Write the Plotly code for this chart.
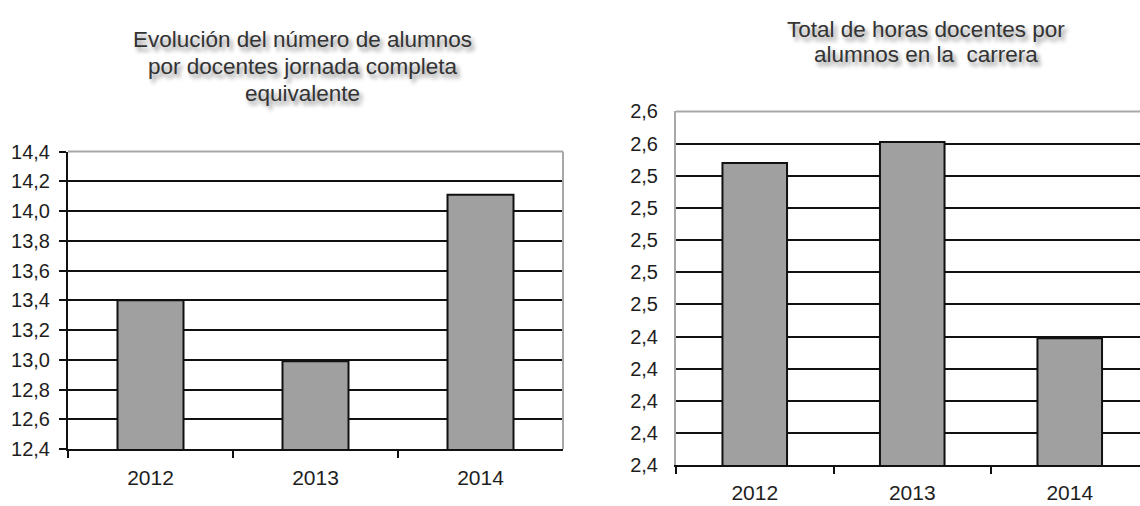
import plotly.graph_objects as go

years = ["2012", "2013", "2014"]
alumnos_por_docente = [13.40, 12.99, 14.11]
horas_por_alumno = [2.548, 2.561, 2.439]

title_left_lines = ["Evolución del número de alumnos",
                    "por docentes jornada completa",
                    "equivalente"]
title_right_lines = ["Total de horas docentes por",
                     "alumnos en la  carrera"]

W, H = 1140, 506
FONT = "Liberation Sans, Arial, sans-serif"
BAR = "#a0a0a0"
GRID = "#111111"
FRAME = "#a8a8a8"

fig = go.Figure()
fig.add_trace(go.Bar(x=years, y=alumnos_por_docente, width=0.4,
                     marker=dict(color=BAR, line=dict(color="#111111", width=2)),
                     xaxis="x", yaxis="y", showlegend=False, hoverinfo="skip"))
fig.add_trace(go.Bar(x=years, y=horas_por_alumno, width=0.41,
                     marker=dict(color=BAR, line=dict(color="#111111", width=2)),
                     xaxis="x2", yaxis="y2", showlegend=False, hoverinfo="skip"))

ytickfont = dict(family=FONT, size=20, color="#1e1e1e")
xtickfont = dict(family=FONT, size=21, color="#1e1e1e")
titlefont = dict(family=FONT, size=22.5, color="#333333",
                 shadow="3px 4px 4px rgba(0,0,0,0.45)")

annotations = []
for i, line in enumerate(title_left_lines):
    annotations.append(dict(text=line, xref="paper", yref="paper", x=302 / W,
                            y=1 - (30 + 28 * i) / H, xanchor="center", yanchor="middle",
                            showarrow=False, font=titlefont))
for i, line in enumerate(title_right_lines):
    annotations.append(dict(text=line, xref="paper", yref="paper", x=926 / W,
                            y=1 - (19 + 26 * i) / H, xanchor="center", yanchor="middle",
                            showarrow=False, font=titlefont))

fig.update_layout(
    width=W, height=H,
    margin=dict(l=0, r=0, t=0, b=0),
    paper_bgcolor="white", plot_bgcolor="white",
    separators=",.",
    xaxis=dict(domain=[68 / W, 563 / W], anchor="y", type="category",
               range=[-0.5, 2.5], showline=True, linecolor="#111111", linewidth=2,
               ticks="outside", tickson="boundaries", ticklen=7, tickwidth=2,
               tickcolor="#111111", showgrid=False, tickfont=xtickfont,
               ticklabelstandoff=9),
    yaxis=dict(domain=[(H - 458) / H, (H - 147) / H], anchor="x",
               range=[12.4, 14.4], tick0=12.4, dtick=0.2, tickformat=".1f",
               showline=True, linecolor="#111111", linewidth=2,
               ticks="outside", ticklen=7, tickwidth=2, tickcolor="#111111",
               showgrid=True, gridcolor=GRID, gridwidth=2, zeroline=False,
               tickfont=ytickfont, ticklabelstandoff=5),
    xaxis2=dict(domain=[676 / W, 1.0], anchor="y2", type="category",
                range=[-0.5, -0.5 + 464 / 157.5], showline=True, linecolor="#111111",
                linewidth=2, ticks="outside", tickson="boundaries", ticklen=7,
                tickwidth=2, tickcolor="#111111", showgrid=False, tickfont=xtickfont,
                ticklabelstandoff=7),
    yaxis2=dict(domain=[(H - 475) / H, (H - 105) / H], anchor="x2",
                range=[2.36, 2.58], tick0=2.36, dtick=0.02, tickformat=".1f",
                showline=True, linecolor=FRAME, linewidth=2, ticks="",
                showgrid=True, gridcolor=GRID, gridwidth=2, zeroline=False,
                tickfont=ytickfont, ticklabelstandoff=12),
    shapes=[
        dict(type="line", xref="x domain", yref="y domain", x0=0, x1=1, y0=1, y1=1,
             line=dict(color=FRAME, width=2), layer="above"),
        dict(type="line", xref="x domain", yref="y domain", x0=1, x1=1, y0=0, y1=1,
             line=dict(color=FRAME, width=2), layer="above"),
        dict(type="line", xref="x2 domain", yref="y2 domain", x0=0, x1=1, y0=1, y1=1,
             line=dict(color=FRAME, width=2), layer="above"),
    ],
    annotations=annotations,
)

fig.write_html(
    "out.html",
    config={"displayModeBar": False},
    post_script="document.body.style.margin='0';document.body.style.overflow='hidden';",
)
